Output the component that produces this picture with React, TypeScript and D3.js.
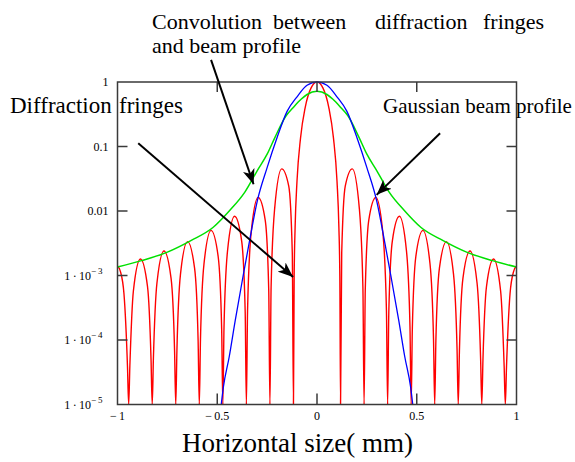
import React from 'react';
import * as d3 from 'd3';

const width = 575;
const height = 462;
const plot = { left: 117.5, right: 516.5, top: 82, bottom: 404.5 };

// tick values
const xTicks = [-1, -0.5, 0, 0.5, 1];
const xInnerTicks = [-0.5, 0, 0.5];
const yTicks = [1, 0.1, 0.01, 1e-3, 1e-4, 1e-5];
const yInnerTicks = [0.1, 0.01, 1e-3, 1e-4];

// diffraction fringes (red), right half, mirrored for x < 0
const fringeX = [
  0, 0.0295, 0.059, 0.0826, 0.1003, 0.1097, 0.1145, 0.118,
  0.1239, 0.1416, 0.177, 0.2124, 0.2301, 0.236,
  0.2419, 0.2596, 0.295, 0.3304, 0.3481, 0.354,
  0.3599, 0.3776, 0.413, 0.4484, 0.4661, 0.472,
  0.4779, 0.4956, 0.531, 0.5664, 0.5841, 0.59,
  0.5959, 0.6136, 0.649, 0.6844, 0.7021, 0.708,
  0.7139, 0.7316, 0.767, 0.8024, 0.8201, 0.826,
  0.8319, 0.8496, 0.885, 0.9204, 0.9381, 0.944,
  0.9499, 0.9676, 0.9853, 1.0
];
const fringeY = [
  1, 0.811, 0.405, 0.135, 0.0289, 0.00562, 0.000953, 1e-5,
  0.00225, 0.0243, 0.045, 0.0108, 0.00065, 1e-5,
  0.00059, 0.00723, 0.0162, 0.00447, 0.000285, 1e-5,
  0.000267, 0.00342, 0.00827, 0.00242, 0.000159, 1e-5,
  0.000151, 0.00199, 0.005, 0.00152, 0.000101, 1e-5,
  0.0000972, 0.0013, 0.00335, 0.00104, 0.00007, 1e-5,
  0.0000677, 0.000911, 0.0024, 0.000757, 0.0000513, 1e-5,
  0.00005, 0.000675, 0.0018, 0.000575, 0.0000392, 1e-5,
  0.0000383, 0.000521, 0.00115, 0.0014
];

// gaussian beam profile (blue), right half
const beamX = [0, 0.05, 0.1, 0.15, 0.2, 0.25, 0.3, 0.34, 0.37, 0.41, 0.44, 0.47, 0.48];
const beamY = [1, 0.89, 0.59, 0.35, 0.138, 0.047, 0.014, 0.0032, 0.001, 0.0002, 0.000055, 0.000018, 0.00001];

// convolution (green), right half
const convX = [0, 0.05, 0.08, 0.12, 0.155, 0.21, 0.25, 0.3, 0.36, 0.44, 0.52, 0.63, 0.75, 0.88, 1.0];
const convY = [0.72, 0.64, 0.54, 0.4, 0.3, 0.14, 0.076, 0.042, 0.02, 0.01, 0.0056, 0.0035, 0.0023, 0.0017, 0.00135];

// annotation arrows, in data units: [x0, y0, x1, y1]
const arrows = [
  [-0.531, 2.2, -0.318, 0.026],
  [-0.896, 0.112, -0.12, 0.00095],
  [0.617, 0.161, 0.299, 0.0178]
];

function mirror(xs, ys) {
  const left = xs.slice(1).map((x, i) => [-x, ys[i + 1]]).reverse();
  const right = xs.map((x, i) => [x, ys[i]]);
  return [...left, ...right];
}

function expLabel(v) {
  if (v >= 0.01) return { base: String(v), sup: null };
  const e = Math.round(Math.log10(v));
  return { base: '1\u2009\u00b7\u200910', sup: '\u2212\u2009' + Math.abs(e) };
}

export default function App() {
  const x = d3.scaleLinear().domain([-1, 1]).range([plot.left, plot.right]);
  const y = d3.scaleLog().domain([1e-5, 1]).range([plot.bottom, plot.top]);

  const line = d3.line()
    .x(d => x(d[0]))
    .y(d => y(Math.max(d[1], 1e-5)))
    .curve(d3.curveMonotoneX);

  const serif = '"Times New Roman", "Liberation Serif", serif';

  return (
    <svg width={width} height={height} style={{ position: 'absolute', left: 0, top: 0, background: '#fff' }}>
      <defs>
        <clipPath id="plotClip">
          <rect x={plot.left} y={plot.top - 2} width={plot.right - plot.left} height={plot.bottom - plot.top + 2} />
        </clipPath>
        <marker id="head" markerUnits="userSpaceOnUse" markerWidth="16" markerHeight="12"
          refX="15" refY="6" orient="auto">
          <path d="M0,0 L15,6 L0,12 L4,6 z" fill="#000" />
        </marker>
      </defs>

      <g clipPath="url(#plotClip)">
        <path d={line(mirror(fringeX, fringeY))} fill="none" stroke="#ff0000" strokeWidth="1.4" />
        <path d={line(mirror(convX, convY))} fill="none" stroke="#00e000" strokeWidth="1.5" />
        <path d={line(mirror(beamX, beamY))} fill="none" stroke="#0000ff" strokeWidth="1.3" />
      </g>

      <rect x={plot.left} y={plot.top} width={plot.right - plot.left} height={plot.bottom - plot.top}
        fill="none" stroke="#3a3a3a" strokeWidth="1.5" />

      {xInnerTicks.map(t => (
        <g key={'xt' + t} stroke="#3a3a3a" strokeWidth="1.5">
          <line x1={x(t)} x2={x(t)} y1={plot.bottom} y2={plot.bottom - 11} />
          <line x1={x(t)} x2={x(t)} y1={plot.top} y2={plot.top + 10} />
        </g>
      ))}
      {yInnerTicks.map(t => (
        <g key={'yt' + t} stroke="#3a3a3a" strokeWidth="1.5">
          <line x1={plot.left} x2={plot.left + 10} y1={y(t)} y2={y(t)} />
          <line x1={plot.right} x2={plot.right - 10} y1={y(t)} y2={y(t)} />
        </g>
      ))}

      <g fontFamily={serif} fontSize="12" fill="#000">
        {xTicks.map(t => (
          <text key={'xl' + t} x={x(t)} y={plot.bottom + 15} textAnchor="middle">
            {t < 0 ? '\u2212\u2009' + Math.abs(t) : String(t)}
          </text>
        ))}
        {yTicks.map(t => {
          const l = expLabel(t);
          return (
            <text key={'yl' + t} x={l.sup ? plot.left - 15 : plot.left - 9} y={y(t) + 4} textAnchor="end">
              {l.base}
              {l.sup && <tspan dy="-6" fontSize="9">{l.sup}</tspan>}
            </text>
          );
        })}
      </g>

      {arrows.map((a, i) => (
        <line key={'ar' + i} x1={x(a[0])} y1={y(a[1])} x2={x(a[2])} y2={y(a[3])}
          stroke="#000" strokeWidth="2" markerEnd="url(#head)" />
      ))}

      <g fontFamily={serif} fill="#000">
        <text y={29} fontSize="22">
          <tspan x={152}>Convolution</tspan>
          <tspan x={273}>between</tspan>
          <tspan x={375}>diffraction</tspan>
          <tspan x={483}>fringes</tspan>
        </text>
        <text x={152} y={53} fontSize="22">and beam profile</text>
        <text y={113} fontSize="23">
          <tspan x={10}>Diffraction</tspan>
          <tspan x={119}>fringes</tspan>
        </text>
        <text x={383} y={113} fontSize="21">Gaussian beam profile</text>
        <text x={182} y={452} fontSize="27">Horizontal size( mm)</text>
      </g>
    </svg>
  );
}
